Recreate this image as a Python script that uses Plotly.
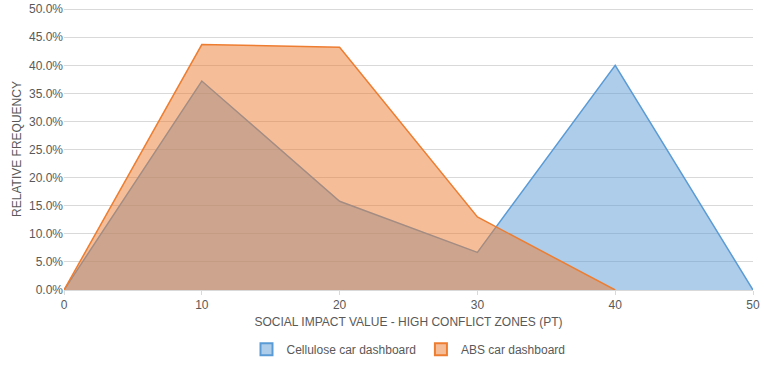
import plotly.graph_objects as go

x_cellulose = [0, 10, 20, 30, 40, 50]
y_cellulose = [0.0, 0.372, 0.158, 0.067, 0.40, 0.0]
x_abs = [0, 10, 20, 30, 40]
y_abs = [0.0, 0.437, 0.432, 0.130, 0.0]
x_ticks = [0, 10, 20, 30, 40, 50]
y_ticks = [0.0, 0.05, 0.10, 0.15, 0.20, 0.25, 0.30, 0.35, 0.40, 0.45, 0.50]

font_name = "Liberation Sans Narrow, Arial Narrow, Liberation Sans, Arial"
blue = "#5B9BD5"
orange = "#ED7D31"

fig = go.Figure()
fig.add_trace(go.Scatter(
    x=x_cellulose, y=y_cellulose, name="Cellulose car dashboard",
    mode="lines", fill="tozeroy", showlegend=False,
    line=dict(color=blue, width=1.5),
    fillcolor="rgba(91,155,213,0.5)",
))
fig.add_trace(go.Scatter(
    x=x_abs, y=y_abs, name="ABS car dashboard",
    mode="lines", fill="tozeroy", showlegend=False,
    line=dict(color=orange, width=1.5),
    fillcolor="rgba(237,125,49,0.5)",
))
# legend entries with square swatches
fig.add_trace(go.Scatter(
    x=[None], y=[None], name="Cellulose car dashboard", mode="markers",
    marker=dict(symbol="square", size=8, color="rgba(91,155,213,0.5)",
                line=dict(color=blue, width=1)),
))
fig.add_trace(go.Scatter(
    x=[None], y=[None], name="ABS car dashboard", mode="markers",
    marker=dict(symbol="square", size=8, color="rgba(237,125,49,0.5)",
                line=dict(color=orange, width=1)),
))

fig.update_layout(
    width=764, height=372,
    margin=dict(l=64, r=11, t=8, b=82, autoexpand=False),
    paper_bgcolor="white", plot_bgcolor="white",
    font=dict(family=font_name, size=12, color="#595959"),
    showlegend=True,
    legend=dict(orientation="h", x=0.5, xanchor="center", y=-0.21, yanchor="middle",
                font=dict(size=12, color="#595959"), itemwidth=30,
                tracegroupgap=0, itemsizing="constant"),
    xaxis=dict(
        range=[0, 50], tickvals=x_ticks, ticktext=[str(v) for v in x_ticks],
        showgrid=False, zeroline=False, automargin=False,
        showline=True, linecolor="#D9D9D9", linewidth=1,
        ticks="outside", ticklen=4, tickcolor="#D9D9D9",
        title=dict(text="SOCIAL IMPACT VALUE - HIGH CONFLICT ZONES (PT)", standoff=6,
                   font=dict(size=12, color="#595959")),
        tickfont=dict(size=12, color="#595959"),
    ),
    yaxis=dict(
        range=[0, 0.502], tickvals=y_ticks, tickformat=".1%", automargin=False,
        ticklabeloverflow="allow",
        showgrid=True, gridcolor="#D9D9D9", gridwidth=1,
        zeroline=False, showline=False,
        title=dict(text="RELATIVE FREQUENCY", standoff=4,
                   font=dict(size=12, color="#595959")),
        tickfont=dict(size=12, color="#595959"),
    ),
)

fig.write_html("out.html")
